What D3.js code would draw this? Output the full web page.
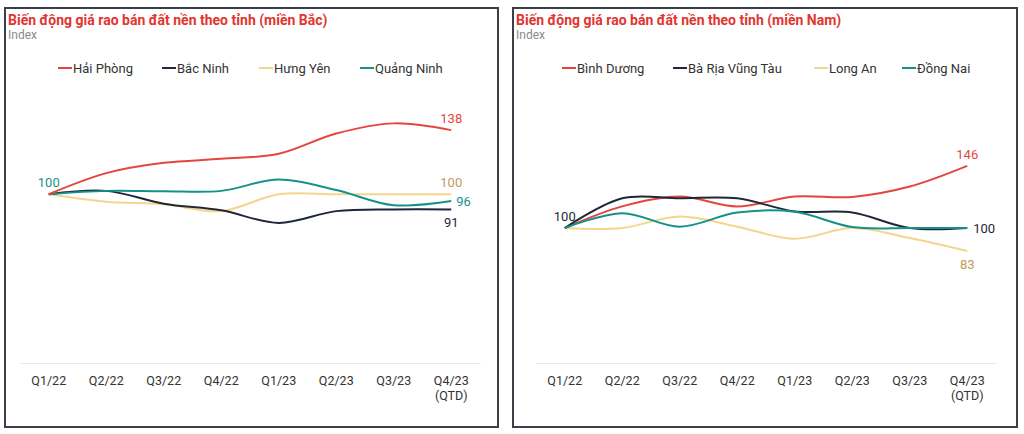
<!DOCTYPE html>
<html><head><meta charset="utf-8">
<script src="https://cdn.jsdelivr.net/npm/d3@7"></script>
<style>
html,body{margin:0;padding:0;background:#fff;}
svg{display:block;font-family:Roboto,"Noto Sans",Arial,sans-serif;}
</style></head>
<body><svg id="c" width="1024" height="434"></svg>
<script>
const categories = ["Q1/22","Q2/22","Q3/22","Q4/22","Q1/23","Q2/23","Q3/23","Q4/23 (QTD)"];

// miền Bắc
const northNames = ["Hải Phòng","Bắc Ninh","Hưng Yên","Quảng Ninh"];
const haiPhong  = [100,112.5,118.6,121,124,136,142,138];
const bacNinh   = [100,102,94.4,90.5,83,90,91,91];
const hungYen   = [100,95.6,94,90,100,100,100,100];
const quangNinh = [100,102,101.8,102,108.7,102.5,93.5,96];

// miền Nam
const southNames = ["Bình Dương","Bà Rịa Vũng Tàu","Long An","Đồng Nai"];
const binhDuong = [100,116,123.3,116,123.3,123,130.7,146];
const baRiaVT   = [100,122,122,122,112.3,111.5,100,100];
const longAn    = [100,100,108.6,101,92,100,92.6,83];
const dongNai   = [100,111,101,111.5,112,100.7,100,100];

const colors = ["#e6453f","#1e2838","#f4d58c","#16918a"];
const labelColors = ["#e6453f","#1e2838","#c4995a","#16918a"];

const svg = d3.select("#c");

function panel(cfg){
  const g = svg.append("g");
  g.append("rect").attr("x",cfg.box[0]).attr("y",cfg.box[1])
    .attr("width",cfg.box[2]).attr("height",cfg.box[3])
    .attr("fill","#fff").attr("stroke","#3b4048").attr("stroke-width",2);
  g.append("text").attr("x",cfg.box[0]+3).attr("y",cfg.box[1]+17)
    .attr("fill","#e2352f").attr("font-weight","bold").attr("font-size",14)
    .text(cfg.title);
  g.append("text").attr("x",cfg.box[0]+3).attr("y",cfg.box[1]+31)
    .attr("fill","#8a8a8a").attr("font-size",12).text("Index");

  const x = d3.scaleBand().domain(categories).range(cfg.xr);
  const y = d3.scaleLinear().domain(cfg.yd).range([363, 93]);
  const cx = c => x(c) + x.bandwidth()/2;

  // axis
  const ax = g.append("g").attr("transform","translate(0,363)")
    .call(d3.axisBottom(x).tickSize(0).tickFormat(""));
  ax.select(".domain").attr("stroke","#e8e8e8").attr("stroke-width",1.2);
  categories.forEach(c=>{
    const parts = c.split(" ");
    const t = g.append("text").attr("x",cx(c)).attr("y",385)
      .attr("text-anchor","middle").attr("font-size",12.5).attr("fill","#333");
    parts.forEach((p,i)=>t.append("tspan").attr("x",cx(c)).attr("dy",i?15:0).text(p));
  });

  // legend
  cfg.names.forEach((n,i)=>{
    const lx = cfg.legX[i];
    g.append("line").attr("x1",lx).attr("x2",lx+14).attr("y1",68).attr("y2",68)
      .attr("stroke",colors[i]).attr("stroke-width",2);
    g.append("text").attr("x",lx+15).attr("y",72.5).attr("font-size",13)
      .attr("fill","#333").text(n);
  });

  const line = d3.line().x((d,i)=>cx(categories[i])).y(d=>y(d))
    .curve(d3.curveCatmullRom.alpha(0.5));
  cfg.order.forEach(i=>{
    g.append("path").datum(cfg.series[i]).attr("d",line)
      .attr("fill","none").attr("stroke",colors[i]).attr("stroke-width",2);
  });

  // labels
  cfg.labels.forEach(l=>{
    const s = cfg.series[l.s];
    const idx = l.first ? 0 : s.length-1;
    const v = s[idx];
    g.append("text").attr("x",cx(categories[idx])+l.dx).attr("y",y(v)+l.dy)
      .attr("text-anchor",l.anchor||"middle").attr("font-size",13)
      .attr("fill",labelColors[l.c]).text(Math.round(v));
  });
}

panel({
  box:[5,8,493,419], title:"Biến động giá rao bán đất nền theo tỉnh (miền Bắc)",
  xr:[20,480], yd:[0,160], names:northNames,
  series:[haiPhong,bacNinh,hungYen,quangNinh], order:[2,1,3,0],
  legX:[58,162,259,360],
  labels:[
    {s:3,c:3,first:true,dx:0,dy:-7},
    {s:0,c:0,dx:0,dy:-7},
    {s:2,c:2,dx:0,dy:-7},
    {s:3,c:3,dx:5,dy:5,anchor:"start"},
    {s:1,c:1,dx:0,dy:18}
  ]
});

panel({
  box:[513,8,504,419], title:"Biến động giá rao bán đất nền theo tỉnh (miền Nam)",
  xr:[536,996], yd:[0,200], names:southNames,
  series:[binhDuong,baRiaVT,longAn,dongNai], order:[2,0,1,3],
  legX:[562,673,814,902],
  labels:[
    {s:1,c:1,first:true,dx:0,dy:-7},
    {s:0,c:0,dx:0,dy:-7},
    {s:1,c:1,dx:6,dy:5,anchor:"start"},
    {s:2,c:2,dx:0,dy:18}
  ]
});
</script></body></html>
